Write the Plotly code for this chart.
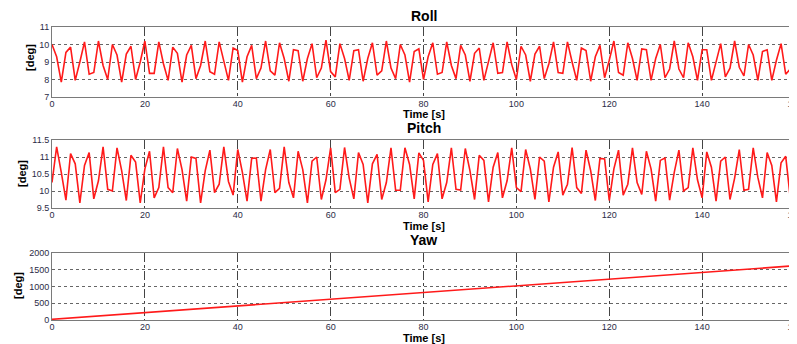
import plotly.graph_objects as go

time_s = list(range(0, 161))

roll_deg = [
    10.0, 9.3, 7.85, 9.55, 9.85, 7.95, 9.0, 10.15, 8.3, 8.4,
    10.2, 8.8, 8.0, 10.0, 9.4, 7.85, 9.45, 9.9, 8.0, 9.0,
    10.2, 8.35, 8.35, 10.15, 8.9, 7.95, 9.85, 9.5, 7.85, 9.4,
    9.95, 8.05, 8.8, 10.2, 8.45, 8.3, 10.15, 9.0, 7.95, 9.8,
    9.65, 7.85, 9.3, 9.95, 8.05, 8.65, 10.2, 8.5, 8.25, 10.1,
    9.2, 7.9, 9.7, 9.65, 7.9, 9.2, 10.05, 8.1, 8.65, 10.25,
    8.45, 8.15, 10.05, 9.2, 7.95, 9.65, 9.7, 7.9, 9.2, 10.1,
    8.25, 8.5, 10.2, 8.65, 8.05, 10.0, 9.4, 7.85, 9.6, 9.75,
    8.0, 9.3, 10.1, 8.3, 8.4, 10.15, 8.8, 8.05, 9.95, 9.4,
    7.9, 9.5, 9.8, 7.95, 9.0, 10.1, 8.35, 8.4, 10.15, 8.85,
    8.0, 9.9, 9.4, 7.9, 9.45, 9.9, 8.05, 8.9, 10.15, 8.4,
    8.35, 10.15, 9.0, 7.95, 9.8, 9.65, 7.9, 9.3, 9.95, 8.1,
    9.1, 10.2, 8.4, 8.25, 10.1, 9.2, 7.95, 9.75, 9.7, 7.95,
    9.2, 10.0, 8.1, 8.6, 10.2, 8.6, 8.1, 10.1, 9.3, 7.95,
    9.7, 9.7, 7.95, 9.05, 10.05, 8.15, 8.65, 10.2, 8.7, 8.2,
    10.0, 9.4, 7.95, 9.6, 9.7, 7.95, 9.1, 10.05, 8.3, 8.6,
    10.15,
]

pitch_deg = [
    10.25, 11.3, 10.55, 9.73, 11.1, 10.8, 9.65, 10.75, 11.13, 9.77,
    10.3, 11.3, 10.05, 10.0, 11.27, 10.6, 9.72, 11.05, 10.85, 9.65,
    10.65, 11.17, 9.8, 10.1, 11.3, 10.1, 9.95, 11.25, 10.63, 9.7,
    11.0, 10.96, 9.65, 10.6, 11.2, 9.95, 10.2, 11.3, 10.28, 9.88,
    11.22, 10.55, 9.7, 10.96, 10.97, 9.7, 10.63, 11.22, 9.95, 10.08,
    11.3, 10.25, 9.8, 11.17, 10.63, 9.65, 10.88, 11.0, 9.75, 10.33,
    11.27, 9.95, 10.05, 11.28, 10.38, 9.77, 11.13, 10.78, 9.65, 10.8,
    11.08, 9.75, 10.25, 11.27, 10.02, 10.02, 11.27, 10.78, 9.77, 11.12,
    10.9, 9.68, 10.78, 11.1, 9.77, 10.25, 11.27, 10.05, 10.03, 11.25,
    10.6, 9.75, 11.05, 10.9, 9.68, 10.7, 11.13, 9.8, 10.3, 11.27,
    10.1, 9.98, 11.22, 10.65, 9.75, 11.0, 10.88, 9.68, 10.7, 11.15,
    9.88, 10.2, 11.28, 10.1, 9.93, 11.2, 10.6, 9.72, 10.96, 10.94,
    9.72, 10.65, 11.2, 9.88, 10.2, 11.27, 10.25, 9.9, 11.17, 10.65,
    9.7, 10.9, 10.97, 9.73, 10.55, 11.2, 10.0, 10.1, 11.27, 10.33,
    9.8, 11.15, 10.7, 9.7, 10.88, 11.0, 9.75, 10.38, 11.22, 10.02,
    10.05, 11.27, 10.4, 9.8, 11.13, 10.75, 9.68, 10.83, 11.02, 9.77,
    10.45,
]

yaw_time_s = [0, 20, 40, 60, 80, 100, 120, 140, 160]
yaw_deg = [20, 220, 420, 620, 820, 1020, 1220, 1420, 1620]

x_ticks = [0, 20, 40, 60, 80, 100, 120, 140, 160]
roll_ticks = [7, 8, 9, 10, 11]
pitch_ticks = [9.5, 10, 10.5, 11, 11.5]
yaw_ticks = [0, 500, 1000, 1500, 2000]

# page body has an 8px margin: figure is placed at (8, 8)
OFF = 8
W, H = 797 - OFF, 344 - OFF
L, R = 52 - OFF, 797 - 795
fig = go.Figure()

line_style = dict(color="#ff1a1a", width=1.6)
fig.add_trace(go.Scatter(x=time_s, y=roll_deg, mode="lines", line=line_style, xaxis="x", yaxis="y"))
fig.add_trace(go.Scatter(x=time_s, y=pitch_deg, mode="lines", line=line_style, xaxis="x2", yaxis="y2"))
fig.add_trace(go.Scatter(x=yaw_time_s, y=yaw_deg, mode="lines", line=line_style, xaxis="x3", yaxis="y3"))

def py(px):
    return 1 - (px - OFF) / H

def pdom(top_px, bot_px):
    return [py(bot_px), py(top_px)]

def px_(x):
    return (x - OFF - L) / (W - L - R)

tick_font = dict(family="Arial, Liberation Sans, sans-serif", size=9, color="#2b2b45")

def xax(anchor):
    return dict(
        domain=[0, 1], anchor=anchor, range=[0, 160], tickvals=x_ticks,
        ticktext=[str(v) for v in x_ticks],
        showgrid=True, gridcolor="#444444", griddash="dashdot", gridwidth=1,
        showline=True, linecolor="#7a7a7a", linewidth=1, mirror=True,
        ticks="", zeroline=False, tickfont=tick_font, automargin=False,
        ticklabeloverflow="allow", ticklabelstandoff=-2,
    )

def yax(anchor, dom, rng, tv):
    return dict(
        domain=dom, anchor=anchor, range=rng, tickvals=tv,
        ticktext=[("%g" % v) for v in tv],
        showgrid=True, gridcolor="#666666", griddash="dot", gridwidth=1,
        showline=True, linecolor="#7a7a7a", linewidth=1, mirror=True,
        ticks="", zeroline=False, tickfont=tick_font, automargin=False,
    )

fig.update_layout(
    width=W, height=H, template="none",
    margin=dict(l=L, r=R, t=0, b=0),
    paper_bgcolor="white", plot_bgcolor="white",
    showlegend=False,
    xaxis=xax("y"), xaxis2=xax("y2"), xaxis3=xax("y3"),
    yaxis=yax("x", pdom(27, 97), [7, 11], roll_ticks),
    yaxis2=yax("x2", pdom(140, 208), [9.5, 11.5], pitch_ticks),
    yaxis3=yax("x3", pdom(253, 320), [0, 2000], yaw_ticks),
)

title_font = dict(family="Arial, Liberation Sans, sans-serif", size=14, color="black")
lab_font = dict(family="Arial, Liberation Sans, sans-serif", size=11, color="black")
cx = px_((52 + 795) / 2)
ann = []
panels = [
    ("Roll", 16, 114, 30, 58),
    ("Pitch", 128, 226, 22, 174),
    ("Yaw", 240, 338, 18, 286),
]
for title, ty, xy, lx, ly in panels:
    ann.append(dict(text="<b>%s</b>" % title, x=cx, y=py(ty), xref="paper", yref="paper",
                    showarrow=False, font=title_font, xanchor="center", yanchor="middle"))
    ann.append(dict(text="<b>Time [s]</b>", x=cx, y=py(xy), xref="paper", yref="paper",
                    showarrow=False, font=lab_font, xanchor="center", yanchor="middle"))
    ann.append(dict(text="<b>[deg]</b>", x=px_(lx), y=py(ly),
                    xref="paper", yref="paper", showarrow=False, font=lab_font, textangle=-90,
                    xanchor="center", yanchor="middle"))
fig.update_layout(annotations=ann)

fig.write_html("out.html")
